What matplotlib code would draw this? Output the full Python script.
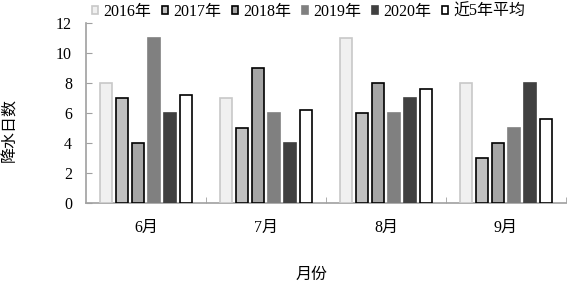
import numpy as np
import matplotlib
matplotlib.use("Agg")
import matplotlib.pyplot as plt
from matplotlib.ticker import FixedLocator

plt.rcParams['font.family'] = ['Liberation Serif', 'Noto Sans CJK SC']

# ==============================================================
# data
months = ['6月', '7月', '8月', '9月']
series = ['2016年', '2017年', '2018年', '2019年', '2020年', '近5年平均']
v2016 = [8, 7, 11, 8]
v2017 = [7, 5, 6, 3]
v2018 = [4, 9, 8, 4]
v2019 = [11, 6, 6, 5]
v2020 = [6, 4, 7, 8]
vavg = [7.2, 6.2, 7.6, 5.6]

# ==============================================================
# styles
FACES = ['#f0f0f0', '#c0c0c0', '#a5a5a5', '#808080', '#404040', '#ffffff']
EDGES = ['#c8c8c8', '#000000', '#000000', '#808080', '#404040', '#000000']
FONT = 11.5
SLOT = 16 / 120
BARW = 12.5 / 120

f = plt.figure(figsize=(5.67, 2.84), dpi=100)
ax = f.add_axes([86 / 567, 1 - 203 / 284, 480 / 567, 180 / 284])

x = np.arange(len(months))
allvals = [v2016, v2017, v2018, v2019, v2020, vavg]
handles = []
for i, vals in enumerate(allvals):
    off = (i - 2.5) * SLOT
    b = ax.bar(x + off, vals, BARW, color=FACES[i], edgecolor=EDGES[i],
               linewidth=1.2, label=series[i], zorder=3)
    handles.append(b)

ax.set_xlim(-0.5, 3.5)
ax.set_ylim(0, 12)
ax.set_yticks(np.arange(0, 13, 2))
ax.set_xticks(x)
ax.set_xticklabels(months, fontsize=FONT)
ax.xaxis.set_minor_locator(FixedLocator([0.5, 1.5, 2.5, 3.5]))
ax.tick_params(axis='x', which='major', length=0, pad=12)
ax.tick_params(axis='x', which='minor', length=4, direction='in', color='#a0a0a0')
ax.tick_params(axis='y', length=4, direction='in', color='#a0a0a0', labelsize=FONT, pad=10)
for s in ['top', 'right']:
    ax.spines[s].set_visible(False)
for s in ['left', 'bottom']:
    ax.spines[s].set_color('#a0a0a0')
    ax.spines[s].set_linewidth(1.2)

ax.set_ylabel('降水日数', fontsize=FONT, va='center')
ax.yaxis.set_label_coords(-0.157, 0.405)
ax.set_xlabel('月份', fontsize=FONT, va='center')
ax.xaxis.set_label_coords(0.469, -0.4)

f.legend(handles=handles, loc='center', bbox_to_anchor=(0.544, 0.958), ncol=6,
         frameon=False, fontsize=FONT, handlelength=0.4, handleheight=0.4,
         handletextpad=0.3, columnspacing=0.68, borderaxespad=0)

f.savefig("out.png", dpi=100)
